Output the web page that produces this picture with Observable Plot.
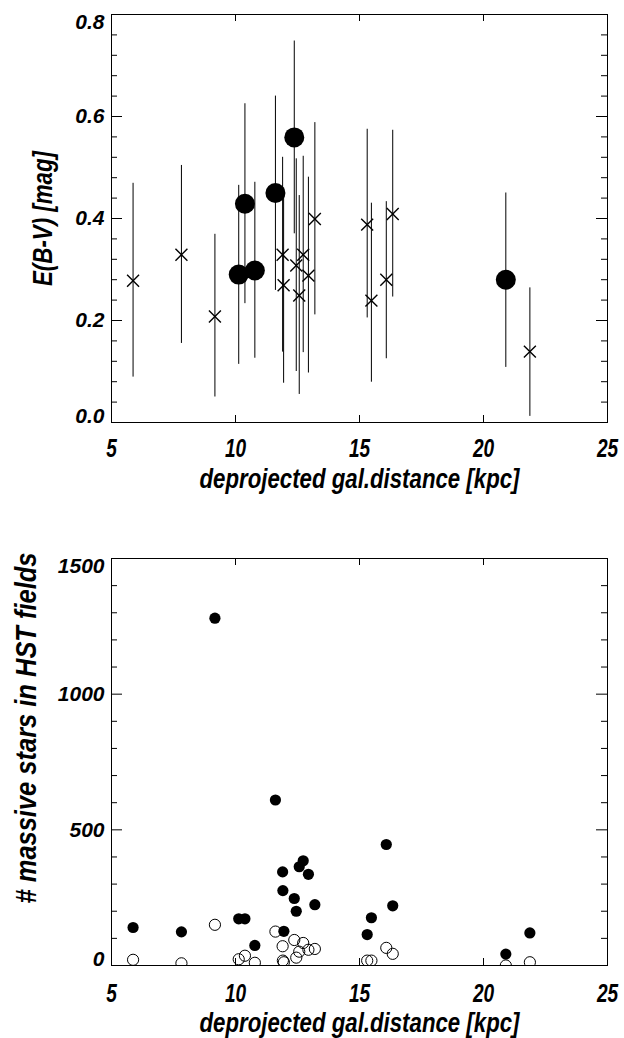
<!DOCTYPE html>
<html>
<head>
<meta charset="utf-8">
<script src="https://cdn.jsdelivr.net/npm/d3@7"></script>
<script src="https://cdn.jsdelivr.net/npm/@observablehq/plot@0.6"></script>
<style>
  body { margin: 0; background: #fff; }
  #chart svg { display: block; }
</style>
</head>
<body>
<div id="chart"></div>
<script>
// ---------- data ----------
const xTitle = "deprojected gal.distance [kpc]";
const ebvTitle = "E(B-V) [mag]";
const starsTitle = "# massive stars in HST fields";

const xTicks = [5, 10, 15, 20, 25];
const ebvTicks = [0.0, 0.2, 0.4, 0.6, 0.8];
const ebvMinorTicks = [0.04, 0.08, 0.12, 0.16, 0.24, 0.28, 0.32, 0.36, 0.44, 0.48, 0.52, 0.56, 0.64, 0.68, 0.72, 0.76];
const starsTicks = [0, 500, 1000, 1500];
const starsMinorTicks = [100, 200, 300, 400, 600, 700, 800, 900, 1100, 1200, 1300, 1400];

// E(B-V) fields drawn with crosses
const crossDist = [5.87, 7.82, 9.17, 11.90, 11.94, 12.45, 12.57, 12.73, 12.94, 13.20, 15.31, 15.48, 16.08, 16.34, 21.87];
const crossEbv  = [0.278, 0.329, 0.208, 0.329, 0.269, 0.308, 0.249, 0.329, 0.288, 0.399, 0.388, 0.239, 0.280, 0.409, 0.139];
const crossLow  = [0.089, 0.155, 0.050, 0.138, 0.077, 0.100, 0.055, 0.137, 0.097, 0.211, 0.205, 0.079, 0.125, 0.246, 0.012];
const crossHigh = [0.469, 0.504, 0.369, 0.520, 0.460, 0.517, 0.445, 0.522, 0.481, 0.588, 0.575, 0.430, 0.433, 0.573, 0.264];

// E(B-V) fields drawn with big filled circles
const circDist = [10.13, 10.38, 10.78, 11.61, 12.37, 20.90];
const circEbv  = [0.290, 0.429, 0.298, 0.450, 0.559, 0.280];
const circLow  = [0.114, 0.233, 0.126, 0.259, 0.370, 0.108];
const circHigh = [0.465, 0.625, 0.471, 0.640, 0.748, 0.450];

// massive star counts
const fieldDist  = [5.87, 7.82, 9.17, 10.13, 10.38, 10.78, 11.61, 11.90, 11.91, 11.95, 12.37, 12.45, 12.57, 12.73, 12.94, 13.20, 15.31, 15.48, 16.08, 16.34, 20.90, 21.87];
const starsFilled = [140, 124, 1280, 172, 172, 74, 610, 345, 276, 126, 247, 200, 364, 386, 336, 224, 114, 176, 446, 220, 42, 120];
const starsOpen   = [21, 8, 150, 23, 36, 10, 125, 71, 18, 12, 94, 29, 51, 83, 58, 61, 18, 18, 65, 43, 0, 12];

// ---------- tables ----------
const crosses = crossDist.map((d, i) => ({d, e: crossEbv[i], lo: crossLow[i], hi: crossHigh[i]}));
const circles = circDist.map((d, i) => ({d, e: circEbv[i], lo: circLow[i], hi: circHigh[i]}));
const fields = fieldDist.map((d, i) => ({d, filled: starsFilled[i], open: starsOpen[i]}));

// ---------- layout ----------
const W = 624, ML = 111, MR = 17;
const frameW = W - ML - MR;

const font = {
  fontFamily: "'Liberation Sans', Arial, Helvetica, sans-serif",
  fontWeight: "bold",
  fontStyle: "italic",
  background: "white",
  color: "black",
  overflow: "visible"
};

// inward tick marks on all four sides of the frame
function frameTicks(major, minor, frameH) {
  const s = {stroke: "black", strokeWidth: 1};
  return [
    Plot.tickY(major, {y: d => d, ...s, insetRight: frameW - 11}),
    Plot.tickY(major, {y: d => d, ...s, insetLeft: frameW - 11}),
    Plot.tickY(minor, {y: d => d, ...s, insetRight: frameW - 6}),
    Plot.tickY(minor, {y: d => d, ...s, insetLeft: frameW - 6}),
    Plot.tickX(xTicks, {x: d => d, ...s, insetTop: frameH - 7}),
    Plot.tickX(xTicks, {x: d => d, ...s, insetBottom: frameH - 7})
  ];
}

function yLabels(ticks, fmt) {
  const common = {anchor: "left", tickSize: 0, tickPadding: 7, fontSize: 21, tickFormat: fmt, label: null};
  return [
    Plot.axisY(ticks.slice(0, 1), {...common, lineAnchor: "bottom"}),
    Plot.axisY(ticks.slice(1, -1), {...common, lineAnchor: "middle"}),
    Plot.axisY(ticks.slice(-1), {...common, lineAnchor: "top"})
  ];
}

function xLabels(pad) {
  return Plot.axisX(xTicks, {anchor: "bottom", tickSize: 0, tickPadding: pad, fontSize: 26, label: null, tickFormat: d => String(d)});
}

function squeezeText(svg, match, lenFn) {
  svg.querySelectorAll("text").forEach(t => {
    if (match(t.textContent)) {
      t.setAttribute("textLength", lenFn(t.textContent));
      t.setAttribute("lengthAdjust", "spacingAndGlyphs");
    }
  });
}

function titleText(label, opts) {
  return Plot.text([label], {text: d => d, textAnchor: "middle", lineAnchor: "bottom", ...opts});
}

// ---------- top panel ----------
const topH = 500, topMT = 14, topMB = 78;
const topPlot = Plot.plot({
  width: W, height: topH,
  marginLeft: ML, marginRight: MR, marginTop: topMT, marginBottom: topMB,
  style: font,
  x: {domain: [5, 25]},
  y: {domain: [0, 0.8]},
  marks: [
    Plot.frame({stroke: "black", strokeWidth: 1}),
    ...frameTicks(ebvTicks, ebvMinorTicks, topH - topMT - topMB),
    ...yLabels(ebvTicks, d3.format(".1f")),
    xLabels(16),
    Plot.ruleX(crosses, {x: "d", y1: "lo", y2: "hi", stroke: "black", strokeWidth: 1, clip: "frame"}),
    Plot.ruleX(circles, {x: "d", y1: "lo", y2: "hi", stroke: "black", strokeWidth: 1, clip: "frame"}),
    Plot.dot(crosses, {x: "d", y: "e", symbol: "times", r: 5.5, stroke: "black", strokeWidth: 1.4}),
    Plot.dot(circles, {x: "d", y: "e", r: 10, fill: "black", stroke: "none"}),
    titleText(xTitle, {frameAnchor: "bottom", dy: 65, fontSize: 27}),
    titleText(ebvTitle, {frameAnchor: "left", dx: -60, rotate: -90, fontSize: 27})
  ]
});

// ---------- bottom panel ----------
const botH = 538, botMT = 58, botMB = 73;
const bottomPlot = Plot.plot({
  width: W, height: botH,
  marginLeft: ML, marginRight: MR, marginTop: botMT, marginBottom: botMB,
  style: font,
  x: {domain: [5, 25]},
  y: {domain: [0, 1500]},
  marks: [
    Plot.frame({stroke: "black", strokeWidth: 1}),
    ...frameTicks(starsTicks, starsMinorTicks, botH - botMT - botMB),
    ...yLabels(starsTicks, d3.format("d")),
    xLabels(18),
    Plot.dot(fields, {x: "d", y: "filled", r: 5.6, fill: "black", stroke: "none", clip: "frame"}),
    Plot.dot(fields, {x: "d", y: "open", r: 5.6, fill: "none", stroke: "black", strokeWidth: 1, clip: "frame"}),
    titleText(xTitle, {frameAnchor: "bottom", dy: 66, fontSize: 27}),
    titleText(starsTitle, {frameAnchor: "left", dx: -76, dy: -34, rotate: -90, fontSize: 30})
  ]
});

for (const svg of [topPlot, bottomPlot]) {
  svg.querySelectorAll('g[aria-label="x-axis tick label"] text').forEach(t => {
    t.setAttribute("textLength", t.textContent.length * 10.6);
    t.setAttribute("lengthAdjust", "spacingAndGlyphs");
  });
  squeezeText(svg, s => s === xTitle, () => 320);
}
squeezeText(topPlot, s => s === ebvTitle, () => 135);
squeezeText(bottomPlot, s => s === starsTitle, () => 351);

const chart = document.getElementById("chart");
chart.appendChild(topPlot);
chart.appendChild(bottomPlot);
</script>
</body>
</html>
